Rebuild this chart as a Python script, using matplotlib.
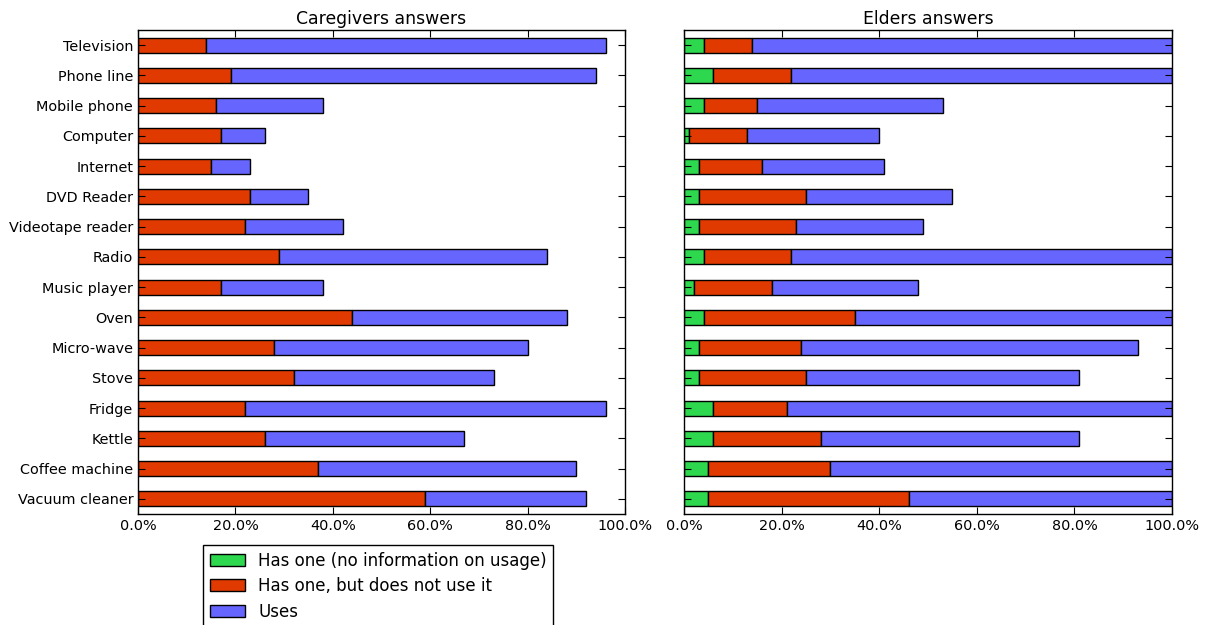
import matplotlib.pyplot as plt
from matplotlib.ticker import PercentFormatter
from matplotlib.patches import Patch

# Appliances, top to bottom
appliances = ['Television', 'Phone line', 'Mobile phone', 'Computer', 'Internet',
              'DVD Reader', 'Videotape reader', 'Radio', 'Music player', 'Oven',
              'Micro-wave', 'Stove', 'Fridge', 'Kettle', 'Coffee machine',
              'Vacuum cleaner']

# Caregivers answers (% of respondents)
care_has_no_info = [0, 0, 0, 0, 0, 0, 0, 0, 0, 0, 0, 0, 0, 0, 0, 0]
care_not_used = [14, 19, 16, 17, 15, 23, 22, 29, 17, 44, 28, 32, 22, 26, 37, 59]
care_uses = [82, 75, 22, 9, 8, 12, 20, 55, 21, 44, 52, 41, 74, 41, 53, 33]

# Elders answers (% of respondents)
eld_has_no_info = [4, 6, 4, 1, 3, 3, 3, 4, 2, 4, 3, 3, 6, 6, 5, 5]
eld_not_used = [10, 16, 11, 12, 13, 22, 20, 18, 16, 31, 21, 22, 15, 22, 25, 41]
eld_uses = [86, 78, 38, 27, 25, 30, 26, 78, 30, 65, 69, 56, 79, 53, 70, 54]

series_labels = ['Has one (no information on usage)', 'Has one, but does not use it', 'Uses']
colors = ['#2ed84e', '#e03a00', '#6666ff']


def draw_panel(ax, data, title, show_labels):
    pos = list(range(len(appliances)))
    left = [0] * len(appliances)
    for vals, col in zip(data, colors):
        ax.barh(pos, vals, height=0.5, left=left, color=col,
                edgecolor='black', linewidth=1, align='center')
        left = [a + b for a, b in zip(left, vals)]
    ax.set_xlim(0, 100)
    ax.set_ylim(15.5, -0.5)
    ax.set_yticks(pos)
    if show_labels:
        ax.set_yticklabels(appliances, fontsize=10.4)
    else:
        ax.set_yticklabels([])
    ax.set_xticks([0, 20, 40, 60, 80, 100])
    ax.xaxis.set_major_formatter(PercentFormatter(100, decimals=1))
    ax.tick_params(direction='in', top=True, right=True, length=5, labelsize=10.4)
    ax.set_title(title, fontsize=12.4, pad=4)
    for s in ax.spines.values():
        s.set_linewidth(1)
        s.set_color('black')


fig = plt.figure(figsize=(12.12, 6.25), dpi=100)
ax1 = fig.add_axes([0.1139, 0.1776, 0.4018, 0.7744])
ax2 = fig.add_axes([0.5644, 0.1776, 0.4026, 0.7744])

draw_panel(ax1, [care_has_no_info, care_not_used, care_uses], 'Caregivers answers', True)
draw_panel(ax2, [eld_has_no_info, eld_not_used, eld_uses], 'Elders answers', False)

handles = [Patch(facecolor=c, edgecolor='black', linewidth=1) for c in colors]
fig.legend(handles, series_labels, loc='upper left',
           bbox_to_anchor=(203 / 1212, 1 - 545 / 625), borderaxespad=0,
           fontsize=12, fancybox=False, framealpha=1, edgecolor='black',
           borderpad=0.4, labelspacing=0.45, handlelength=2.1, handleheight=0.75,
           handletextpad=0.8)

fig.savefig('out.png', dpi=100)
